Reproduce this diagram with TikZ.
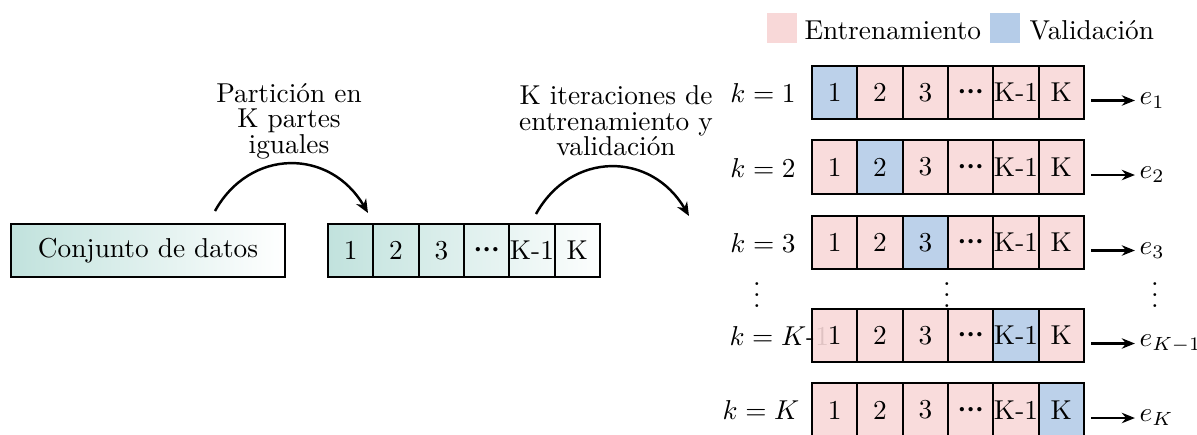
\documentclass[tikz,border=0pt]{standalone}
\usetikzlibrary{arrows.meta}
\definecolor{pinkc}{RGB}{248,216,216}
\definecolor{bluec}{RGB}{181,204,232}
\definecolor{tealc}{RGB}{193,226,221}
\newcommand{\mydots}{{\boldmath${\cdot}{\cdot}{\cdot}$}}
\begin{document}
\begin{tikzpicture}[x=0.366pt,y=-0.366pt,
  cellbox/.style={draw=black,line width=0.75pt,minimum width=16.6pt,minimum height=19.6pt,inner sep=0pt,text opacity=1},
  legsq/.style={minimum width=11pt,minimum height=11pt,inner sep=0pt},
  lbl/.style={inner sep=0pt},
  curvarrow/.style={line width=0.9pt,-{Stealth[length=5pt,width=4.2pt]}},
  errarrow/.style={line width=0.8pt,-{Stealth[length=4.8pt,width=3.8pt]}}]
\useasboundingbox (0,0) rectangle (1197,434);

% data box
\node[draw=black,line width=0.75pt,left color=tealc,right color=white,minimum width=100.3pt,minimum height=19.4pt,inner sep=0pt] (data) at (148,250.5) {Conjunto de datos};

% partition strip
\foreach \i/\t in {1/1,2/2,3/3,4/\mydots,5/K-1,6/K}{
  \pgfmathsetmacro{\pa}{100-16*(\i-1)}
  \pgfmathsetmacro{\pb}{100-16*\i}
  \node[cellbox,left color=tealc!\pa!white,right color=tealc!\pb!white] (p\i) at ({328+45.33*(\i-0.5)},250.5) {\t};
}

% texts
\node[lbl,align=center,font={\fontsize{10}{9.3}\selectfont}] (t1) at (289,121) {Partición en\\K partes\\iguales};
\node[lbl,align=center,font={\fontsize{10}{9.3}\selectfont}] (t2) at (616,121) {K iteraciones de\\entrenamiento y\\validación};

% curved arrows
\coordinate (a1s) at (215,211);
\coordinate (a1e) at (368,213);
\coordinate (a2s) at (536,214);
\coordinate (a2e) at (689,216);
\draw[curvarrow] (a1s) .. controls (250,148) and (330,148) .. (a1e);
\draw[curvarrow] (a2s) .. controls (571,151) and (651,151) .. (a2e);

% legend
\node[legsq,fill=pinkc] (lp) at (782,28) {};
\node[lbl,anchor=west] (lpt) at (804,30) {Entrenamiento};
\node[legsq,fill=bluec] (lb) at (1005,28) {};
\node[lbl,anchor=west] (lbt) at (1029,30) {Validación};

% row labels
\node[lbl] (k1) at (763,93) {$k=1$};
\node[lbl] (k2) at (763,168) {$k=2$};
\node[lbl] (k3) at (763,243) {$k=3$};
\node[lbl,anchor=west] (k4) at (729,336) {$k=K\mbox{-}1$};
\node[lbl] (k5) at (761,410) {$k=K$};

% rows
\foreach \r/\yc/\b/\e in {1/92.5/1/{e_1},2/167/2/{e_2},3/242.5/3/{e_3},4/335.5/5/{e_{K-1}},5/410/6/{e_K}}{
  \foreach \i/\t in {1/1,2/2,3/3,4/\mydots,5/K-1,6/K}{
    \ifnum\i=\b
      \node[cellbox,fill=bluec,fill opacity=0.9] (r\r c\i) at ({812+45.33*(\i-0.5)},\yc) {\t};
    \else
      \node[cellbox,fill=pinkc,fill opacity=0.9] (r\r c\i) at ({812+45.33*(\i-0.5)},\yc) {\t};
    \fi
  }
  \node[lbl,anchor=west] (e\r) at (1139,{\yc+8}) {$\e$};
  \draw[errarrow] ([shift={(6,8)}]r\r c6.east) -- ([xshift=-1.5pt]e\r.west);
}

% vertical dots
\node[lbl] (d1) at (757,287) {$\vdots$};
\node[lbl] (d2) at (947,287) {$\vdots$};
\node[lbl] (d3) at (1155,287) {$\vdots$};
\end{tikzpicture}
\end{document}
